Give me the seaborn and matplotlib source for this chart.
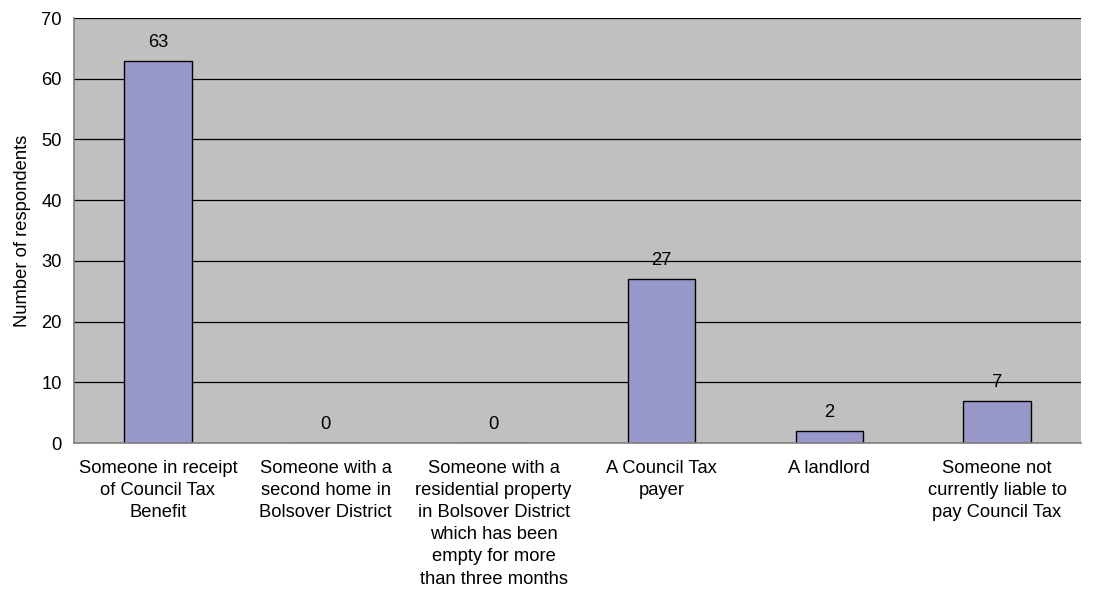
import matplotlib
matplotlib.use("Agg")
import matplotlib.pyplot as plt
import seaborn as sns
import pandas as pd

categories = [
    "Someone in receipt\nof Council Tax\nBenefit",
    "Someone with a\nsecond home in\nBolsover District",
    "Someone with a\nresidential property\nin Bolsover District\nwhich has been\nempty for more\nthan three months",
    "A Council Tax\npayer",
    "A landlord",
    "Someone not\ncurrently liable to\npay Council Tax",
]
values = [63, 0, 0, 27, 2, 7]
y_ticks = [0, 10, 20, 30, 40, 50, 60, 70]
y_label = "Number of respondents"

sns.set_theme(style="white")
plt.rcParams['font.family'] = ['Liberation Sans', 'DejaVu Sans']
plt.rcParams['text.color'] = 'black'
plt.rcParams['xtick.color'] = 'black'
plt.rcParams['ytick.color'] = 'black'
plt.rcParams['axes.labelcolor'] = 'black'

FS = 13.2
df = pd.DataFrame({"cat": categories, "val": values})
fig = plt.figure(figsize=(11, 5.91), dpi=100)
ax = fig.add_axes([0.0673, 0.2504, 0.9154, 0.7191])
ax.set_facecolor("#C0C0C0")
sns.barplot(data=df, x="cat", y="val", ax=ax, color="#9797CA", width=0.4,
            edgecolor="black", linewidth=1.0, saturation=1)
ax.set_ylim(0, 70)
ax.set_xlim(-0.5, len(categories) - 0.5)
ax.set_yticks(y_ticks)
ax.set_yticklabels([str(t) for t in y_ticks], fontsize=FS)
ax.yaxis.grid(True, color="black", linewidth=0.9)
ax.set_axisbelow(True)
ax.set_xlabel("")
ax.set_ylabel(y_label, fontsize=FS, labelpad=7)
ax.set_xticks([i - 0.5 for i in range(len(categories) + 1)], minor=False)
ax.set_xticklabels([""] * (len(categories) + 1))
ax.set_xticks(range(len(categories)), minor=True)
ax.set_xticklabels(categories, minor=True, fontsize=FS, linespacing=1.4, va="top")
ax.tick_params(axis="x", which="major", length=5, color="black", direction="out", width=1)
ax.tick_params(axis="x", which="minor", length=0, pad=12)
ax.tick_params(axis="y", length=5, color="black", direction="out", width=1, pad=4)
for s in ["top", "right"]:
    ax.spines[s].set_visible(False)
for s in ["left", "bottom"]:
    ax.spines[s].set_color("#808080")
    ax.spines[s].set_linewidth(1.2)
for i, v in enumerate(values):
    ax.annotate(str(v), (i, v), xytext=(0, 7), textcoords="offset points",
                ha="center", va="bottom", fontsize=FS)
fig.savefig("out.png", dpi=100)
